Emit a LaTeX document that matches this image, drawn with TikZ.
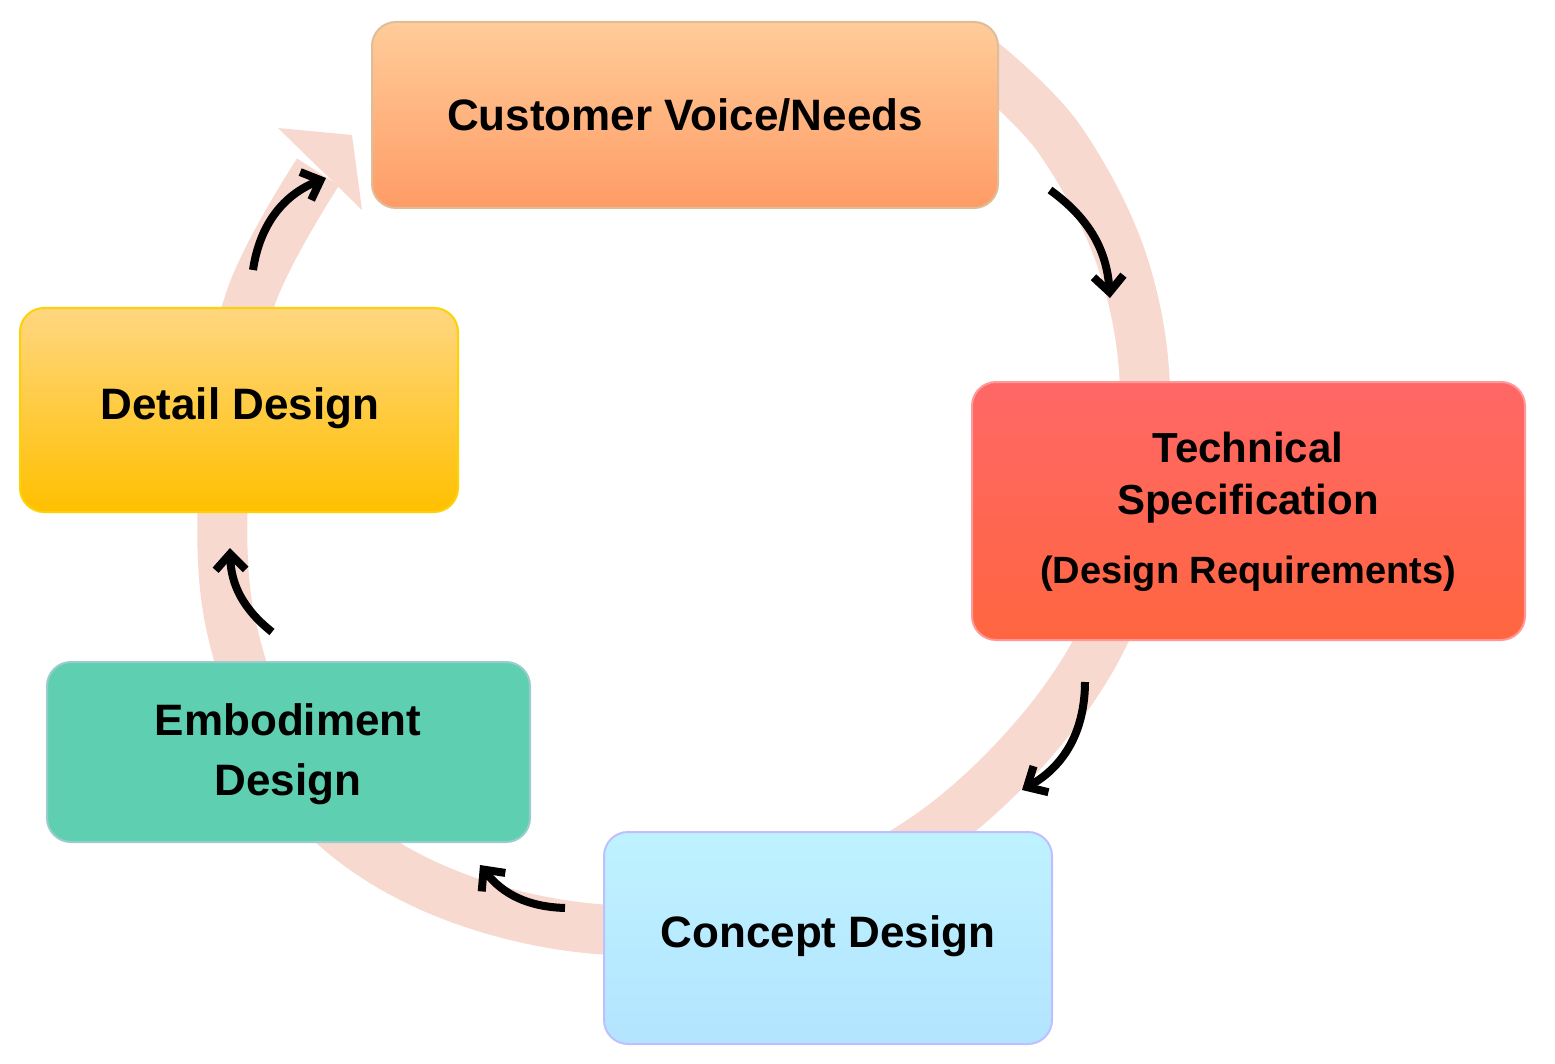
\documentclass[tikz,border=0pt]{standalone}
\usepackage{fontspec}
\setmainfont{Liberation Sans}
\usetikzlibrary{arrows.meta}
\definecolor{ring}{HTML}{F8D9CF}
\begin{document}
\begin{tikzpicture}[x=1pt,y=-1pt,
  box/.style={rounded corners=24pt,line width=2pt,font=\fontsize{44}{50}\selectfont\bfseries,align=center},
  blk/.style={line width=8pt,-{Straight Barb[length=16pt,width=30pt,line width=8pt]}}]
\useasboundingbox (0,0) rectangle (1555,1064);
\draw[ring,line width=50pt,line cap=butt] plot[smooth,tension=0.6] coordinates{(980,60) (1060,140) (1125,270) (1145,420) (1115,610) (1010,765) (860,875) (650,930) (450,895) (305,795) (232,630) (225,455) (250,300) (318,172)};
\fill[ring] (278,128) -- (352,135) -- (362,210) -- cycle;
\draw[box,draw=orange!70!black!40,top color=orange!40,bottom color=orange!70!red!60,fill=orange!60] (372,22) rectangle (998,208);
\node (cust) at (685,115) {\fontsize{44}{50}\selectfont\bfseries Customer Voice/Needs};
\draw[box,draw=red!40,top color=red!55!pink!90,bottom color=red!60!orange!75] (972,382) rectangle (1525,640);
\node[align=center,font=\fontsize{42}{52}\selectfont\bfseries] (tech) at (1248,478) {Technical\\Specification};
\node[font=\fontsize{38}{44}\selectfont\bfseries] (req) at (1248,574) {(Design Requirements)};
\draw[box,draw=blue!25,top color=blue!20!cyan!25,bottom color=blue!35!cyan!30] (604,832) rectangle (1052,1044);
\node (conc) at (828,936) {\fontsize{44}{50}\selectfont\bfseries Concept Design};
\draw[box,draw=teal!40,fill={rgb,255:red,94;green,207;blue,176}] (47,662) rectangle (530,842);
\node[align=center,font=\fontsize{44}{60}\selectfont\bfseries] (emb) at (288,754) {Embodiment\\Design};
\draw[box,draw=yellow!70!orange,top color={rgb,255:red,255;green,214;blue,128},bottom color={rgb,255:red,255;green,192;blue,0}] (20,308) rectangle (458,512);
\node (det) at (240,408) {\fontsize{44}{50}\selectfont\bfseries Detail Design};
\coordinate (a1) at (1050,190); \coordinate (b1) at (1110,298);
\coordinate (a2) at (1085,682); \coordinate (b2) at (1022,790);
\coordinate (a3) at (565,908); \coordinate (b3) at (480,865);
\coordinate (a4) at (272,632); \coordinate (b4) at (230,548);
\coordinate (a5) at (253,270); \coordinate (b5) at (326,178);
\draw[blk] (a1) to[bend left=25] (b1);
\draw[blk] (a2) to[bend left=30] (b2);
\draw[blk] (a3) to[bend left=25] (b3);
\draw[blk] (a4) to[bend left=25] (b4);
\draw[blk] (a5) to[bend left=30] (b5);
\end{tikzpicture}
\end{document}
